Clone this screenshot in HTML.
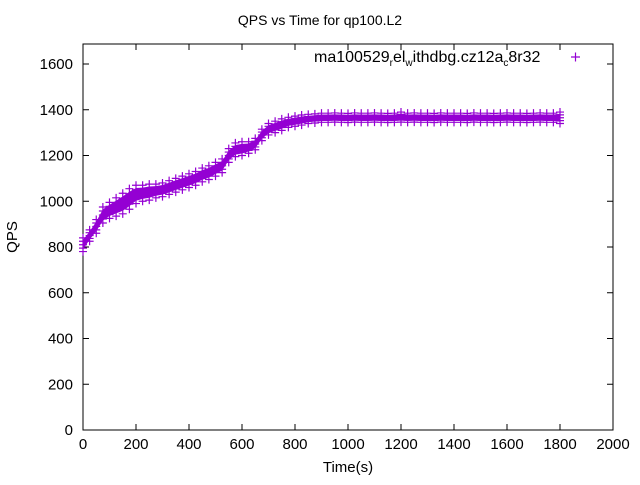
<!DOCTYPE html>
<html><head><meta charset="utf-8"><style>
body{margin:0;background:#fff}
svg text{font-family:"Liberation Sans",sans-serif;fill:#000}
</style></head><body>
<svg width="640" height="480" viewBox="0 0 640 480">
<text x="320" y="25" font-size="14" text-anchor="middle">QPS vs Time for qp100.L2</text>
<g id="axes"></g>
<g id="marks"></g>
<text x="17" y="237" font-size="15" text-anchor="middle" transform="rotate(-90 17 237)">QPS</text>
<text x="348" y="472" font-size="15" text-anchor="middle">Time(s)</text>
<g>
<text x="314" y="62" font-size="16">ma100529<tspan font-size="10" dy="4">r</tspan><tspan dy="-4">el</tspan><tspan font-size="10" dy="4">w</tspan><tspan dy="-4">ithdbg.cz12a</tspan><tspan font-size="10" dy="4">c</tspan><tspan dy="-4">8r32</tspan></text>
<path d="M571 57h9M575.5 52.5v9" stroke="#9400d3" stroke-width="1.2"/>
</g>
</svg>
<script>
const xTicks=[0,200,400,600,800,1000,1200,1400,1600,1800,2000];
const yTicks=[0,200,400,600,800,1000,1200,1400,1600];
const times=[0,25,50,75,100,125,150,175,200,225,250,275,300,325,350,375,400,425,450,475,500,525,550,575,600,625,650,675,700,725,750,775,800,825,850,875,900,925,950,975,1000,1025,1050,1075,1100,1125,1150,1175,1200,1225,1250,1275,1300,1325,1350,1375,1400,1425,1450,1475,1500,1525,1550,1575,1600,1625,1650,1675,1700,1725,1750,1775,1800];
const qps=[810,850,890,940,960,975,990,1010,1030,1035,1040,1045,1050,1060,1070,1080,1090,1100,1115,1125,1140,1155,1200,1225,1230,1235,1250,1290,1315,1325,1335,1345,1350,1355,1360,1362,1365,1365,1366,1365,1364,1366,1365,1365,1366,1365,1364,1365,1368,1365,1366,1365,1365,1364,1366,1365,1365,1365,1364,1366,1365,1365,1364,1365,1366,1365,1365,1364,1365,1366,1365,1365,1365];
const spread=[30,25,30,35,35,40,45,45,40,35,35,30,30,30,30,30,30,30,30,30,30,30,30,30,30,25,25,25,25,25,25,22,22,22,20,20,20,20,20,20,20,20,20,20,20,20,20,20,22,20,20,20,20,20,20,20,20,20,20,20,20,20,20,20,20,20,20,20,20,20,20,20,25];
const L=83,R=613,T=44,B=430;
const X=v=>L+(v-0)/2000*(R-L);
const Y=v=>B-v*0.22875;
const NS="http://www.w3.org/2000/svg";
const ax=document.getElementById('axes'),mk=document.getElementById('marks');
function el(t,a,p){const e=document.createElementNS(NS,t);for(const k in a)e.setAttribute(k,a[k]);p.appendChild(e);return e;}
const frame=el('rect',{x:L,y:T,width:R-L,height:B-T,fill:'none',stroke:'#000','stroke-width':1},ax);


xTicks.forEach(v=>{const x=X(v);
 const t=el('path',{d:`M${x} ${B}v-6M${x} ${T}v6`,stroke:'#000'},ax);
 
 
 const l=el('text',{x:x,y:B+19,'font-size':15,'text-anchor':'middle'},ax);l.textContent=v;
 
 });
yTicks.forEach(v=>{const y=Y(v);
 const t=el('path',{d:`M${L} ${y}h6M${R} ${y}h-6`,stroke:'#000'},ax);
 
 
 const l=el('text',{x:L-10,y:y+5,'font-size':15,'text-anchor':'end'},ax);l.textContent=v;
 
 });
let up='',dn='';
times.forEach((t,i)=>{up+=(i?'L':'M')+X(t)+' '+Y(qps[i]+spread[i]*0.7);});
for(let i=times.length-1;i>=0;i--)dn+='L'+X(times[i])+' '+Y(qps[i]-spread[i]*0.7);
const band=el('path',{d:up+dn+'Z',fill:'#9400d3'},mk);


let d='';
times.forEach((t,i)=>{[-1,-0.5,0,0.5,1].forEach(f=>{const x=X(t),y=Y(qps[i]+f*spread[i]);d+=`M${x-4} ${y}h8M${x} ${y-4}v8`;});});
const pts=el('path',{d:d,stroke:'#9400d3','stroke-width':1.2,fill:'none'},mk);


</script>
</body></html>
